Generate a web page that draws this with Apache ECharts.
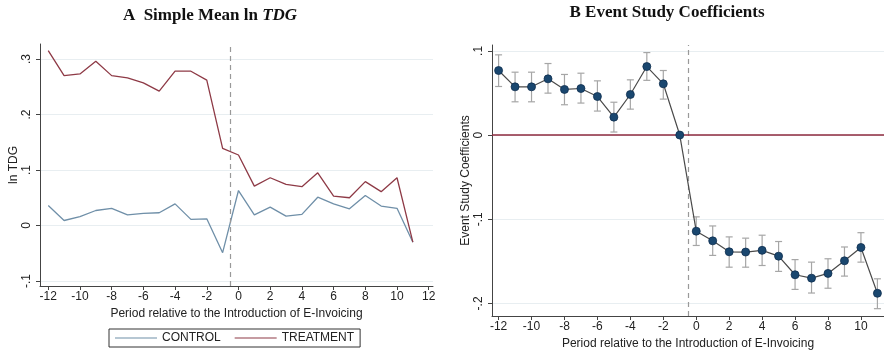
<!DOCTYPE html>
<html><head><meta charset="utf-8">
<script src="https://cdn.jsdelivr.net/npm/echarts@6/dist/echarts.min.js"></script>
<style>html,body{margin:0;padding:0;background:#fff}#c{width:884px;height:350px}</style>
</head><body><div id="c"></div>
<script>
// ---- Panel A data ----
const periodsA = [-12,-11,-10,-9,-8,-7,-6,-5,-4,-3,-2,-1,0,1,2,3,4,5,6,7,8,9,10,11];
const controlVals = [0.036,0.009,0.016,0.027,0.031,0.019,0.022,0.023,0.039,0.011,0.012,-0.049,0.063,0.019,0.033,0.017,0.020,0.051,0.039,0.030,0.054,0.035,0.031,-0.030];
const treatmentVals = [0.315,0.270,0.273,0.296,0.270,0.266,0.257,0.242,0.278,0.278,0.262,0.139,0.127,0.071,0.086,0.074,0.070,0.095,0.053,0.050,0.079,0.061,0.086,-0.030];
const xTicksA = [-12,-10,-8,-6,-4,-2,0,2,4,6,8,10,12];
const yTicksA = [-0.1,0,0.1,0.2,0.3];
// ---- Panel B data ----
const periodsB = [-12,-11,-10,-9,-8,-7,-6,-5,-4,-3,-2,-1,0,1,2,3,4,5,6,7,8,9,10,11];
const coefVals = [0.0767,0.0573,0.0573,0.0668,0.0542,0.0553,0.0458,0.0213,0.0482,0.0814,0.0609,0,-0.1142,-0.1257,-0.1387,-0.139,-0.137,-0.1439,-0.166,-0.170,-0.1644,-0.1494,-0.1336,-0.188];
const ciLow = [0.0577,0.0395,0.0395,0.0498,0.036,0.038,0.0285,0.0036,0.0308,0.065,0.0427,null,-0.1312,-0.143,-0.157,-0.157,-0.155,-0.162,-0.1834,-0.1877,-0.182,-0.1676,-0.151,-0.2063];
const ciHigh = [0.0953,0.0747,0.0747,0.085,0.072,0.0735,0.0644,0.039,0.0656,0.098,0.0767,null,-0.0972,-0.108,-0.121,-0.1225,-0.119,-0.1265,-0.148,-0.151,-0.147,-0.133,-0.116,-0.1708];
const xTicksB = [-12,-10,-8,-6,-4,-2,0,2,4,6,8,10];
const yTicksB = [-0.2,-0.1,0,0.1];
const eventLine = -0.5;

function fmt(v){
  if (Math.abs(v) < 1e-9) return '0';
  const s = String(Math.round(v*10)/10);
  return s.replace(/^(-?)0\./,'$1.');
}
const FONT = 'Liberation Sans, Arial, sans-serif';
const axisLineStyle = {color:'#444', width:1};
const labelStyle = {color:'#222', fontSize:12, fontFamily:FONT};

function xAxisCfg(gridIndex, min, max, ticks, nameGap){
  return {
    type:'value', gridIndex, min, max,
    name:'Period relative to the Introduction of E-Invoicing',
    nameLocation:'middle', nameGap,
    nameTextStyle:{color:'#222', fontSize:12, fontFamily:FONT},
    axisLine:{show:true, onZero:false, lineStyle:axisLineStyle},
    axisTick:{show:true, length:4, lineStyle:axisLineStyle, customValues:ticks},
    axisLabel:{...labelStyle, margin:5, customValues:ticks, formatter:v=>String(v)},
    splitLine:{show:false}
  };
}
function yAxisCfg(gridIndex, min, max, ticks, name, nameGap){
  return {
    type:'value', gridIndex, min, max, name,
    nameLocation:'middle', nameGap, nameRotate:90,
    nameTextStyle:{color:'#222', fontSize:12, fontFamily:FONT},
    axisLine:{show:true, onZero:false, lineStyle:axisLineStyle},
    axisTick:{show:true, length:4, lineStyle:axisLineStyle, customValues:ticks},
    axisLabel:{...labelStyle, rotate:90, margin:7, customValues:ticks, formatter:fmt},
    splitLine:{show:true, lineStyle:{color:'#e8eef1', width:1}}
  };
}

const chart = echarts.init(document.getElementById('c'), null, {renderer:'canvas'});
const option = {
  animation:false,
  backgroundColor:'#fff',
  graphic:[
    {type:'text', x:210, y:7, style:{
      text:'{a|A  Simple Mean ln }{b|TDG}', align:'center',
      rich:{a:{fontFamily:'Liberation Serif, Times New Roman, serif', fontWeight:'bold', fontSize:17, fill:'#111'},
            b:{fontFamily:'Liberation Serif, Times New Roman, serif', fontWeight:'bold', fontStyle:'italic', fontSize:17, fill:'#111'}}
    }},
    {type:'text', x:667, y:4, style:{
      text:'B Event Study Coefficients', align:'center',
      font:'bold 17px Liberation Serif, Times New Roman, serif', fill:'#111'
    }}
  ],
  legend:{
    data:['CONTROL','TREATMENT'],
    orient:'horizontal',
    left:109, top:329,
    icon:'rect', itemWidth:42, itemHeight:1.2, itemGap:14,
    padding:[3,6,3,6],
    borderColor:'#333', borderWidth:1,
    textStyle:{color:'#222', fontSize:12, fontFamily:FONT}
  },
  grid:[
    {left:40, top:44, right:451, bottom:64, containLabel:false, outerBoundsMode:'none'},
    {left:492, top:45, right:0, bottom:34, containLabel:false, outerBoundsMode:'none'}
  ],
  xAxis:[
    xAxisCfg(0, -12.52, 12.27, xTicksA, 21),
    xAxisCfg(1, -12.4, 11.4, xTicksB, 21)
  ],
  yAxis:[
    yAxisCfg(0, -0.109, 0.327, yTicksA, 'ln TDG', 20),
    yAxisCfg(1, -0.215, 0.107, yTicksB, 'Event Study Coefficients', 19)
  ],
  series:[
    {name:'CONTROL', type:'line', xAxisIndex:0, yAxisIndex:0, symbol:'none',
     lineStyle:{color:'#6f8fa8', width:1.3}, itemStyle:{color:'#6f8fa8'},
     data: periodsA.map((p,i)=>[p, controlVals[i]]),
     markLine:{silent:true, symbol:'none', label:{show:false},
       lineStyle:{color:'#999', type:[5,4], width:1.2},
       data:[{xAxis:eventLine}]}
    },
    {name:'TREATMENT', type:'line', xAxisIndex:0, yAxisIndex:0, symbol:'none',
     lineStyle:{color:'#8e3a46', width:1.3}, itemStyle:{color:'#8e3a46'},
     data: periodsA.map((p,i)=>[p, treatmentVals[i]])
    },
    {name:'ci', type:'custom', xAxisIndex:1, yAxisIndex:1,
     data: periodsB.map((p,i)=>[p, ciLow[i], ciHigh[i]]).filter(d=>d[1]!==null),
     renderItem:function(params, api){
       const x = api.value(0);
       const lo = api.coord([x, api.value(1)]);
       const hi = api.coord([x, api.value(2)]);
       const w = 3.5;
       const st = {stroke:'#a6a6a6', lineWidth:1.2};
       return {type:'group', children:[
         {type:'line', shape:{x1:lo[0], y1:lo[1], x2:hi[0], y2:hi[1]}, style:st},
         {type:'line', shape:{x1:lo[0]-w, y1:lo[1], x2:lo[0]+w, y2:lo[1]}, style:st},
         {type:'line', shape:{x1:hi[0]-w, y1:hi[1], x2:hi[0]+w, y2:hi[1]}, style:st}
       ]};
     },
     markLine:{silent:true, symbol:'none', label:{show:false},
       data:[
         {xAxis:eventLine, lineStyle:{color:'#999', type:[5,4], width:1.2}},
         {yAxis:0, lineStyle:{color:'#8e2a3e', type:'solid', width:1.6}}
       ]}
    },
    {name:'coef', type:'line', xAxisIndex:1, yAxisIndex:1,
     symbol:'circle', symbolSize:8, showAllSymbol:true,
     lineStyle:{color:'#4a4a4a', width:1.2},
     itemStyle:{color:'#1a476f', borderColor:'#0f2f4f', borderWidth:0.8},
     data: periodsB.map((p,i)=>[p, coefVals[i]]),
     z:5
    }
  ]
};
chart.setOption(option);
</script>
</body></html>
